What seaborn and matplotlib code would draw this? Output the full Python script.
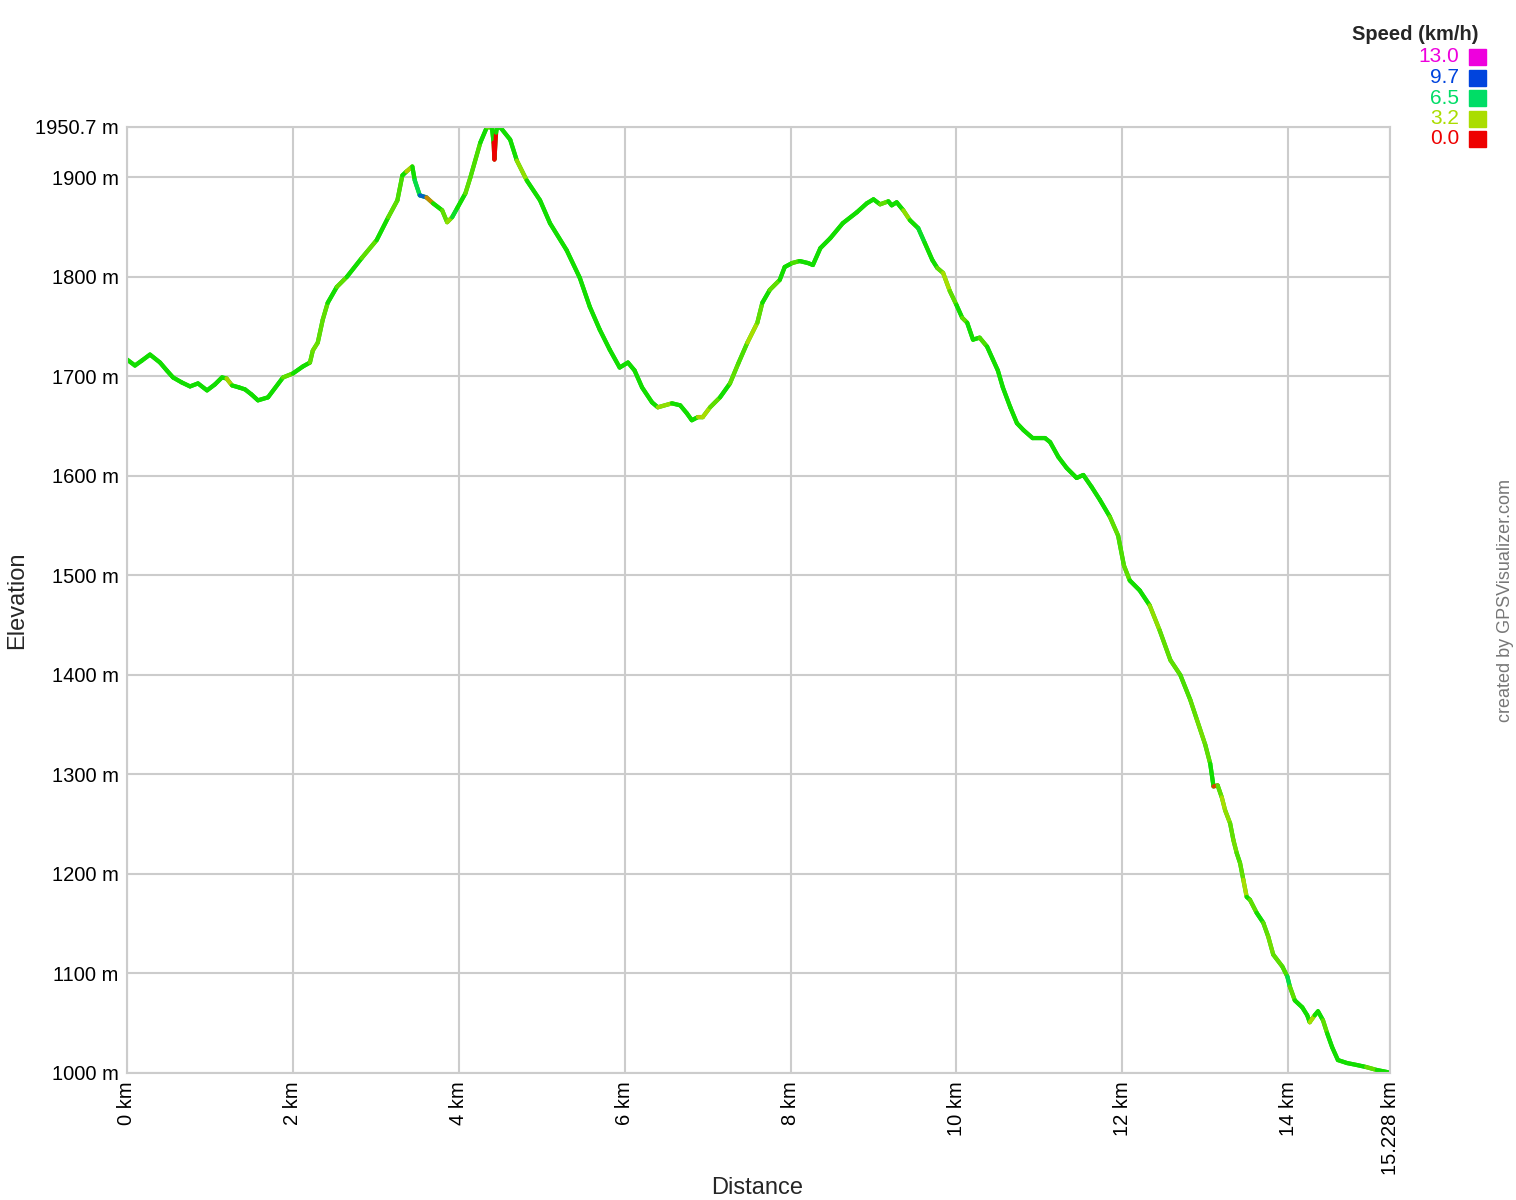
import numpy as np
import pandas as pd
import matplotlib
matplotlib.use("Agg")
import matplotlib.pyplot as plt
from matplotlib.collections import LineCollection
from matplotlib.colors import LinearSegmentedColormap
import seaborn as sns

# elevation profile
dist_km = [0.0, 0.096, 0.18, 0.277, 0.398, 0.48, 0.555, 0.66, 0.76, 0.856,
           0.965, 1.06, 1.145, 1.2, 1.266, 1.35, 1.423, 1.5, 1.579, 1.7,
           1.881, 2.0, 2.12, 2.206, 2.24, 2.30, 2.36, 2.42, 2.53, 2.65,
           2.83, 3.01, 3.15, 3.26, 3.32, 3.37, 3.44, 3.47, 3.53, 3.61,
           3.69, 3.80, 3.86, 3.92, 3.98, 4.08, 4.14, 4.26, 4.34, 4.40,
           4.42, 4.43, 4.45, 4.46, 4.50, 4.62, 4.70, 4.82, 4.98, 5.10,
           5.30, 5.46, 5.58, 5.70, 5.82, 5.94, 6.04, 6.12, 6.21, 6.33,
           6.40, 6.57, 6.67, 6.75, 6.81, 6.88, 6.94, 7.03, 7.15, 7.27,
           7.37, 7.48, 7.60, 7.66, 7.75, 7.87, 7.93, 8.02, 8.11, 8.21,
           8.27, 8.36, 8.48, 8.63, 8.80, 8.92, 9.00, 9.08, 9.18, 9.22,
           9.28, 9.36, 9.44, 9.54, 9.62, 9.71, 9.77, 9.84, 9.92, 10.0,
           10.07, 10.13, 10.20, 10.28, 10.37, 10.44, 10.50, 10.56, 10.65, 10.73,
           10.81, 10.92, 11.07, 11.13, 11.23, 11.33, 11.45, 11.53, 11.63, 11.73,
           11.85, 11.95, 12.02, 12.09, 12.21, 12.33, 12.45, 12.58, 12.70, 12.82,
           12.90, 13.0, 13.06, 13.10, 13.15, 13.20, 13.24, 13.30, 13.34, 13.38,
           13.42, 13.46, 13.50, 13.54, 13.62, 13.70, 13.76, 13.82, 13.93, 13.99,
           14.02, 14.08, 14.17, 14.23, 14.26, 14.32, 14.36, 14.42, 14.47, 14.53,
           14.60, 14.71, 14.83, 14.94, 15.07, 15.19, 15.228]
elev_m = [1717, 1711, 1716, 1722, 1714, 1706, 1699, 1694, 1690, 1693,
          1686, 1692, 1699, 1698, 1691, 1689, 1687, 1682, 1676, 1679,
          1699, 1703, 1710, 1714, 1726, 1734, 1757, 1774, 1790, 1800,
          1819, 1837, 1860, 1877, 1902, 1906, 1911, 1897, 1882, 1880,
          1874, 1867, 1855, 1860, 1869, 1884, 1900, 1935, 1950.7, 1950,
          1935, 1918, 1945, 1950, 1950.5, 1938, 1917, 1897, 1877, 1854,
          1827, 1799, 1770, 1747, 1727, 1709, 1714, 1706, 1689, 1674,
          1669, 1673, 1671, 1663, 1656, 1659, 1659, 1669, 1679, 1693,
          1713, 1734, 1754, 1774, 1787, 1797, 1810, 1814, 1816, 1814,
          1812, 1829, 1839, 1854, 1865, 1874, 1878, 1873, 1876, 1872,
          1875, 1867, 1857, 1849, 1834, 1817, 1809, 1804, 1786, 1772,
          1759, 1754, 1737, 1739, 1730, 1717, 1706, 1689, 1669, 1653,
          1646, 1638, 1638, 1634, 1619, 1608, 1598, 1601, 1589, 1576,
          1559, 1540, 1510, 1495, 1485, 1470, 1445, 1415, 1400, 1375,
          1355, 1330, 1311, 1288, 1289, 1277, 1264, 1251, 1234, 1221,
          1211, 1194, 1177, 1174, 1161, 1151, 1137, 1119, 1107, 1097,
          1087, 1073, 1066, 1058, 1051, 1058, 1062, 1053, 1040, 1026,
          1013, 1010, 1008, 1006, 1003, 1001, 1000]
# speed per segment start (km/h), rough guess from the colour of the track
speed_kmh = [4.8, 4.8, 4.8, 4.8, 4.8, 4.8, 4.8, 4.8, 4.8, 4.8,
             4.8, 4.8, 4.8, 3.0, 4.8, 4.8, 4.8, 4.8, 4.8, 4.8,
             4.0, 4.8, 4.8, 4.0, 3.8, 4.0, 4.0, 4.8, 4.0, 4.8,
             4.0, 4.8, 4.0, 4.2, 4.8, 3.0, 4.8, 6.0, 9.0, 2.0,
             4.8, 4.0, 3.5, 5.5, 4.8, 4.0, 4.2, 4.8, 4.0, 4.8,
             0.0, 0.0, 4.8, 4.8, 4.8, 4.8, 3.5, 4.8, 4.8, 4.8,
             4.8, 4.8, 4.8, 4.8, 4.8, 4.8, 4.8, 4.8, 4.8, 4.8,
             3.5, 4.8, 4.8, 4.8, 4.8, 3.0, 3.2, 4.0, 4.8, 4.0,
             4.2, 3.2, 4.0, 4.8, 4.0, 4.8, 4.8, 4.2, 4.8, 4.8,
             4.8, 4.8, 4.8, 4.8, 4.8, 4.8, 4.8, 4.0, 4.8, 4.8,
             4.8, 3.5, 4.8, 5.5, 4.8, 4.8, 4.0, 3.2, 4.0, 4.8,
             4.0, 4.8, 4.8, 4.2, 4.8, 4.8, 4.8, 4.8, 4.8, 4.8,
             4.8, 4.8, 4.8, 4.8, 4.8, 4.8, 4.8, 4.8, 4.8, 4.8,
             4.0, 4.2, 4.0, 4.8, 4.8, 3.5, 4.0, 4.0, 4.2, 4.0,
             3.8, 4.0, 4.8, 1.0, 4.0, 3.2, 3.5, 4.0, 3.8, 4.2,
             4.0, 3.2, 4.8, 4.0, 4.8, 4.0, 3.8, 4.0, 4.2, 6.0,
             4.0, 4.8, 4.8, 4.8, 3.2, 4.8, 4.8, 4.0, 4.8, 4.8,
             4.8, 4.8, 4.8, 4.0, 4.8, 4.8, 4.8]

legend_vals = ["13.0", "9.7", "6.5", "3.2", "0.0"]
legend_cols = ["#ee00dd", "#0044dd", "#00dd66", "#aadd00", "#ee0000"]
y_ticks = [1000, 1100, 1200, 1300, 1400, 1500, 1600, 1700, 1800, 1900, 1950.7]
y_labels = ["1000 m", "1100 m", "1200 m", "1300 m", "1400 m", "1500 m",
            "1600 m", "1700 m", "1800 m", "1900 m", "1950.7 m"]
x_ticks = [0, 2, 4, 6, 8, 10, 12, 14, 15.228]
x_labels = ["0 km", "2 km", "4 km", "6 km", "8 km", "10 km", "12 km", "14 km", "15.228 km"]

df = pd.DataFrame({"dist": dist_km, "elev": elev_m, "speed": speed_kmh})

sns.set_theme(style="white")
plt.rcParams["font.family"] = ["Liberation Sans", "DejaVu Sans"]

fig = plt.figure(figsize=(15.16, 12), dpi=100)
ax = fig.add_axes([127 / 1516, 1 - 1073 / 1200, 1263 / 1516, 946 / 1200])

sns.lineplot(data=df, x="dist", y="elev", ax=ax, color="#11dd00", linewidth=3,
             estimator=None, sort=False)

cmap = LinearSegmentedColormap.from_list(
    "speed", [(0.0, "#ee0000"), (3.2 / 13, "#aadd00"), (4.8 / 13, "#11dd00"),
              (6.5 / 13, "#00dd66"), (9.7 / 13, "#0044dd"), (1.0, "#ee00dd")])
pts = df[["dist", "elev"]].to_numpy()
segs = np.stack([pts[:-1], pts[1:]], axis=1)
lc = LineCollection(segs, cmap=cmap, linewidths=3, capstyle="round")
lc.set_array(df["speed"].to_numpy()[:-1])
lc.set_clim(0, 13)
ax.add_collection(lc)

ax.set_xlim(0, 15.228)
ax.set_ylim(1000, 1950.7)
ax.set_xticks(x_ticks)
ax.set_xticklabels(x_labels, rotation=90, fontsize=14.5)
ax.set_yticks(y_ticks)
ax.set_yticklabels(y_labels, fontsize=14.5)
ax.tick_params(length=0, pad=6, colors="#000000")
ax.grid(True, color="#cccccc", linewidth=1.5)
for sp in ax.spines.values():
    sp.set_color("#cccccc")
    sp.set_linewidth(1.5)
ax.set_xlabel("")
ax.set_ylabel("")

fig.text(17 / 1516, 1 - 600 / 1200, "Elevation", rotation=90, fontsize=17,
         ha="center", va="center")
fig.text(757 / 1516, 1 - 1188 / 1200, "Distance", fontsize=17,
         ha="center", va="center")
fig.text(1505 / 1516, 1 - 601 / 1200, "created by GPSVisualizer.com", rotation=90,
         fontsize=13, color="#777777", ha="center", va="center")

fig.text(1478 / 1516, 1 - 34 / 1200, "Speed (km/h)", fontsize=14.5, fontweight="bold",
         ha="right", va="center")
for i, (v, c) in enumerate(zip(legend_vals, legend_cols)):
    yc = 57 + i * 20.5
    fig.text(1459 / 1516, 1 - yc / 1200, v, fontsize=15, color=c,
             ha="right", va="center")
    fig.patches.append(plt.Rectangle((1469 / 1516, 1 - (yc + 8) / 1200), 17 / 1516, 16 / 1200,
                                     transform=fig.transFigure, color=c, figure=fig))

fig.savefig("out.png", dpi=100)
